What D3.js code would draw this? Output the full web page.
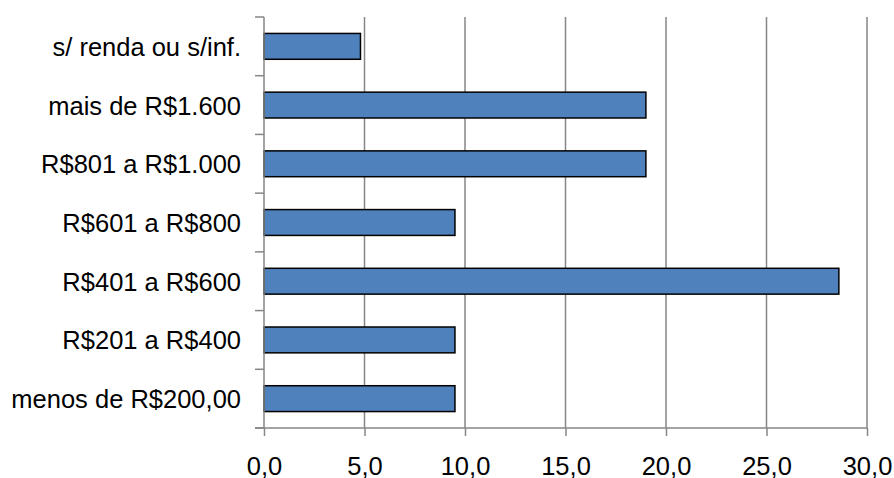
<!DOCTYPE html>
<html><head><meta charset="utf-8">
<script src="https://cdn.jsdelivr.net/npm/d3@7"></script>
<style>body{margin:0;background:#fff}svg{display:block}</style>
</head><body>
<svg id="c" width="894" height="478"></svg>
<script>
const categories = ["s/ renda ou s/inf.", "mais de R$1.600", "R$801 a R$1.000", "R$601 a R$800", "R$401 a R$600", "R$201 a R$400", "menos de R$200,00"];
const values = [4.8, 19.0, 19.0, 9.5, 28.6, 9.5, 9.5];
const xTicks = [0, 5, 10, 15, 20, 25, 30];

(function () {
const svg = d3.select("#c");
const mL = 264, mR = 867, mT = 17, mB = 428;
const x = d3.scaleLinear().domain([0, 30]).range([mL, mR]);
const y = d3.scaleBand().domain(categories).range([mT, mB]).paddingInner(0.56).paddingOuter(0.28);
const grey = "#868686";
const font = "Liberation Sans, Arial, sans-serif";
const fs = 25.5;
const fmt = d => d.toFixed(1).replace(".", ",");

// gridlines
svg.append("g").selectAll("line").data(xTicks.slice(1)).join("line")
  .attr("x1", d => x(d)).attr("x2", d => x(d)).attr("y1", mT).attr("y2", mB)
  .attr("stroke", grey).attr("stroke-width", 1.5);

// bars
svg.append("g").selectAll("rect").data(categories).join("rect")
  .attr("x", x(0)).attr("y", d => y(d))
  .attr("width", (d, i) => x(values[i]) - x(0)).attr("height", y.bandwidth())
  .attr("fill", "#4F81BD").attr("stroke", "#000").attr("stroke-width", 1.5);

// bottom axis
const xa = svg.append("g").attr("transform", `translate(0,${mB})`)
  .call(d3.axisBottom(x).tickValues(xTicks).tickFormat(fmt).tickSize(8).tickSizeOuter(0));
xa.select(".domain").attr("d", `M${mL - 9},0H${mR}`).attr("stroke", grey).attr("stroke-width", 1.5);
xa.selectAll(".tick line").attr("stroke", grey).attr("stroke-width", 1.5);
xa.selectAll(".tick text").attr("font-family", font).attr("font-size", fs).attr("fill", "#000")
  .attr("y", 47).attr("dy", 0);

// left axis
const ya = svg.append("g").attr("transform", `translate(${mL},0)`)
  .call(d3.axisLeft(y).tickSize(0).tickPadding(23));
ya.select(".domain").attr("d", `M0,${mT}V${mB}`).attr("stroke", grey).attr("stroke-width", 1.5);
ya.selectAll(".tick text").attr("font-family", font).attr("font-size", fs).attr("fill", "#000").attr("dy", "0.37em");
const step = (mB - mT) / categories.length;
svg.append("g").selectAll("line").data(d3.range(categories.length + 1)).join("line")
  .attr("x1", mL - 9).attr("x2", mL).attr("y1", i => mT + i * step).attr("y2", i => mT + i * step)
  .attr("stroke", grey).attr("stroke-width", 1.5);
})();
</script>
</body></html>
